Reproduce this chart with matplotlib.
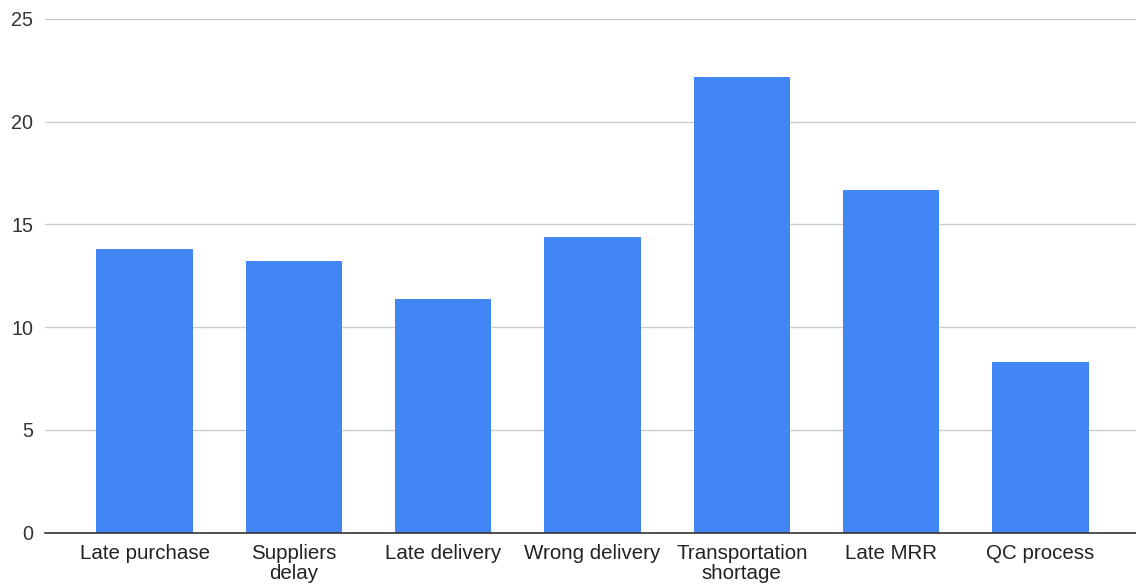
import numpy as np
import matplotlib.pyplot as plt

categories = ["Late purchase", "Suppliers\ndelay", "Late delivery", "Wrong delivery",
              "Transportation\nshortage", "Late MRR", "QC process"]
values = [13.8, 13.2, 11.35, 14.4, 22.2, 16.7, 8.3]
yticks = [0, 5, 10, 15, 20, 25]

plt.rcParams['font.family'] = ['Liberation Sans', 'DejaVu Sans']

W, H = 1136, 585
fig = plt.figure(figsize=(W / 100, H / 100), dpi=100)
ax = fig.add_axes([44.5 / W, (H - 532.7) / H, 1 - 44.5 / W, (532.7 - 19) / H])

x = np.arange(len(categories))
ax.bar(x, values, width=0.647, color='#4285F4', zorder=3)

ax.set_ylim(0, 25)
ax.set_xlim(-0.67, 6.64)
ax.set_yticks(yticks)
ax.set_xticks(x)
ax.set_xticklabels(categories, fontsize=14.8, color='#222222', linespacing=1.05)
ax.tick_params(axis='y', labelsize=14.2, labelcolor='#333333', length=0, pad=8)
ax.tick_params(axis='x', length=0, pad=8)
ax.grid(axis='y', color='#cccccc', lw=1, zorder=0)
for s in ['top', 'right', 'left']:
    ax.spines[s].set_visible(False)
ax.spines['bottom'].set_color('#333333')
ax.spines['bottom'].set_linewidth(1.2)
ax.spines['bottom'].set_zorder(4)

fig.savefig('out.png', dpi=100)
